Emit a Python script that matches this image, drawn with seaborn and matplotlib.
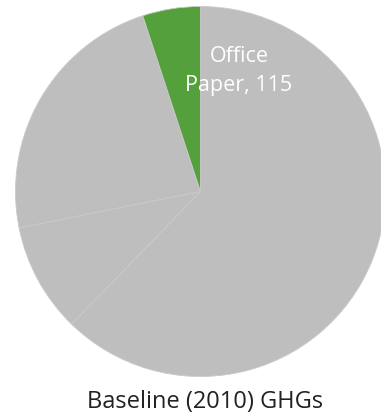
import matplotlib
matplotlib.use("Agg")
import matplotlib.pyplot as plt
import seaborn as sns

categories = ["Other A", "Other B", "Other C", "Office Paper"]
values = [1418, 218, 526, 115]
colors = ["#BEBEBE", "#BEBEBE", "#BEBEBE", "#54A03C"]
label_text = "Office\nPaper, 115"
title = "Baseline (2010) GHGs"

sns.set_theme(style="white")
plt.rcParams['font.family'] = ['Open Sans', 'DejaVu Sans']

fig = plt.figure(figsize=(3.81, 4.2), dpi=100)
W, H = 381, 420
cx, cy, r = 200.5, 191.5, 185
ax = fig.add_axes([(cx - r) / W, (H - cy - r) / H, 2 * r / W, 2 * r / H])
ax.pie(values, colors=colors, startangle=90, counterclock=False,
       wedgeprops=dict(edgecolor="#CACACA", linewidth=0.6))
ax.set_xlim(-1, 1)
ax.set_ylim(-1, 1)
ax.set_aspect("equal")
ax.axis("off")
ax.text((239 - cx) / r, (cy - 71.5) / r, label_text, color="white", ha="center", va="center",
        fontsize=15.5, linespacing=1.5)
fig.text(205 / W, 1 - 402 / H, title, ha="center", va="center", fontsize=17, color="#222222")
fig.savefig("out.png", dpi=100)
